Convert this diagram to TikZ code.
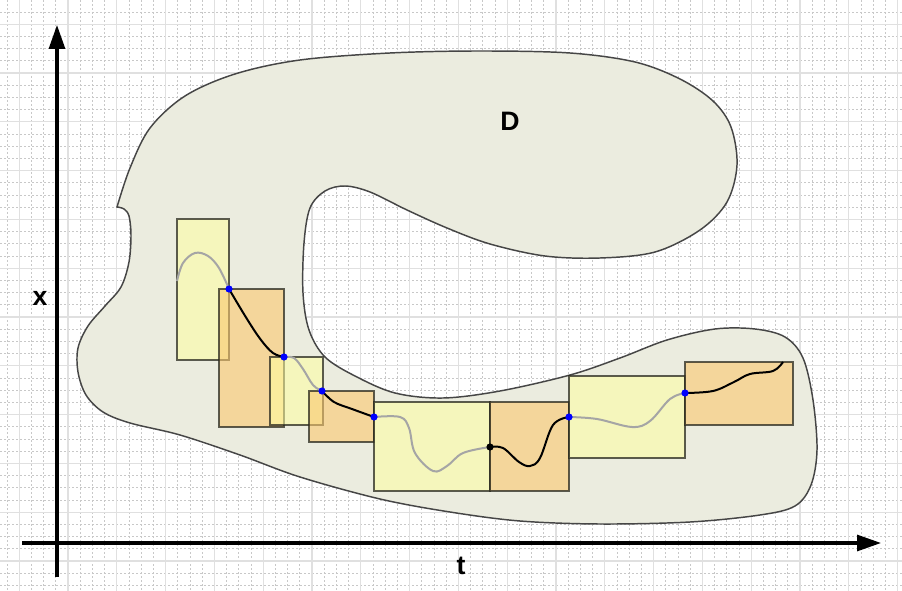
\documentclass[tikz,border=0pt]{standalone}
\usepackage{fontspec}
\setmainfont{Liberation Sans}
\usetikzlibrary{arrows.meta}
\definecolor{gridsolid}{RGB}{224,224,224}
\definecolor{griddash}{RGB}{200,200,200}
\definecolor{dfill}{RGB}{235,236,223}
\definecolor{dline}{RGB}{70,70,70}
\definecolor{yfill}{RGB}{255,255,160}
\definecolor{ofill}{RGB}{250,200,110}
\definecolor{boxline}{RGB}{40,40,30}
\definecolor{curvegray}{RGB}{165,165,165}
\definecolor{dotblue}{RGB}{0,0,255}
\tikzset{
  gridmajor/.style={draw=gridsolid, line width=0.8pt},
  gridminor/.style={draw=griddash, line width=0.6pt, dash pattern=on 1.2pt off 1.8pt},
  axisline/.style={line width=2.3pt, -{Triangle[length=18pt,width=12pt]}},
  dshape/.style={fill=dfill, draw=dline, line width=1.1pt},
  ybox/.style={fill=yfill, fill opacity=0.55, draw=boxline, draw opacity=0.75, line width=1.1pt},
  obox/.style={fill=ofill, fill opacity=0.6, draw=boxline, draw opacity=0.75, line width=1.1pt},
  graycurve/.style={draw=curvegray, line width=1.5pt},
  blackcurve/.style={draw=black, line width=1.5pt},
  bdot/.style={fill=dotblue},
  kdot/.style={fill=black},
  lab/.style={font=\fontsize{20}{24}\selectfont\bfseries, text=black, inner sep=0pt}
}
\begin{document}
\begin{tikzpicture}[x=0.75pt,y=-0.75pt]
\useasboundingbox (0,0) rectangle (902,591);
\fill[white] (0,0) rectangle (902,591);
% grid
\begin{scope}
\clip (0,0) rectangle (902,591);
\foreach \i in {0,...,74} {
  \draw[gridminor] ({7+12.2*\i},0) -- ({7+12.2*\i},591);
}
\foreach \i in {0,...,49} {
  \draw[gridminor] (0,{12+12.2*\i}) -- (902,{12+12.2*\i});
}
\foreach \i in {0,...,18} {
  \draw[gridmajor] ({19.2+48.8*\i},0) -- ({19.2+48.8*\i},591);
}
\foreach \i in {0,...,12} {
  \draw[gridmajor] (0,{24.2+48.8*\i}) -- (902,{24.2+48.8*\i});
}
\end{scope}
% domain D
\draw[dshape] plot[smooth, tension=0.55] coordinates {
 (117,207) (124,209) (129,216) (131,235) (129,262) (121,287) (105,306)
 (88,326) (78,348) (78,372) (86,395) (103,412) (130,423) (180,435)
 (240,455) (300,477) (380,499) (450,512) (520,521) (600,524) (690,522)
 (760,515) (795,506) (811,485) (817,450) (813,400) (803,358) (785,337)
 (755,329) (715,329) (667,340) (620,358) (570,375) (500,391) (443,398)
 (395,393) (355,376) (325,357) (309,330) (303,293) (304,243) (310,208)
 (325,191) (345,186) (370,192) (407,210) (447,228) (490,244) (545,256)
 (600,258) (655,252) (700,230) (727,202) (737,165) (731,127) (713,101)
 (680,79) (635,62) (570,53) (480,51) (390,53) (300,60) (235,74)
 (185,96) (150,128) (130,168) (117,207)
} -- cycle;
% axes
\coordinate (xa0) at (57,577);
\coordinate (xa1) at (57,25);
\coordinate (ta0) at (22,543);
\coordinate (ta1) at (881,543);
\draw[axisline] (xa0) -- (xa1);
\draw[axisline] (ta0) -- (ta1);
\node[lab] (xl) at (40,298) {x};
\node[lab] (tl) at (461,566) {t};
\node[lab] (dl) at (510,121) {D};
% boxes
\draw[ybox] (177,219) rectangle (229,360);
\draw[obox] (219,289) rectangle (284,427);
\draw[ybox] (270,357) rectangle (323,425);
\draw[obox] (309,391) rectangle (374,442);
\draw[ybox] (374,402) rectangle (490,491);
\draw[obox] (490,402) rectangle (569,491);
\draw[ybox] (569,376) rectangle (685,458);
\draw[obox] (685,362) rectangle (793,425);
% points
\coordinate (p0) at (177,281);
\coordinate (p1) at (229,289);
\coordinate (p2) at (284,357);
\coordinate (p3) at (322,391);
\coordinate (p4) at (374,417);
\coordinate (p5) at (490,447);
\coordinate (p6) at (569,417);
\coordinate (p7) at (685,393);
\coordinate (p8) at (783,362);
% curves
\draw[graycurve] plot[smooth, tension=0.6] coordinates {(p0) (183,263) (195,253) (208,256) (219,268) (229,289)};
\draw[blackcurve] plot[smooth, tension=0.6] coordinates {(p1) (247,319) (261,340) (273,353) (p2)};
\draw[graycurve] plot[smooth, tension=0.6] coordinates {(p2) (294,358) (303,369) (313,385) (p3)};
\draw[blackcurve] plot[smooth, tension=0.6] coordinates {(p3) (334,402) (352,409) (p4)};
\draw[graycurve] plot[smooth, tension=0.6] coordinates {(p4) (400,417) (409,428) (415,453) (433,471) (447,466) (463,453) (p5)};
\draw[blackcurve] plot[smooth, tension=0.6] coordinates {(p5) (503,448) (519,462) (530,466) (540,458) (553,425) (p6)};
\draw[graycurve] plot[smooth, tension=0.6] coordinates {(p6) (597,419) (632,427) (650,421) (670,399) (p7)};
\draw[blackcurve] plot[smooth, tension=0.6] coordinates {(p7) (713,391) (734,382) (750,374) (773,371) (p8)};
% dots
\foreach \p in {p1,p2,p3,p4,p6,p7} { \fill[bdot] (\p) circle (3.6); }
\fill[kdot] (p5) circle (3.6);
\end{tikzpicture}
\end{document}
